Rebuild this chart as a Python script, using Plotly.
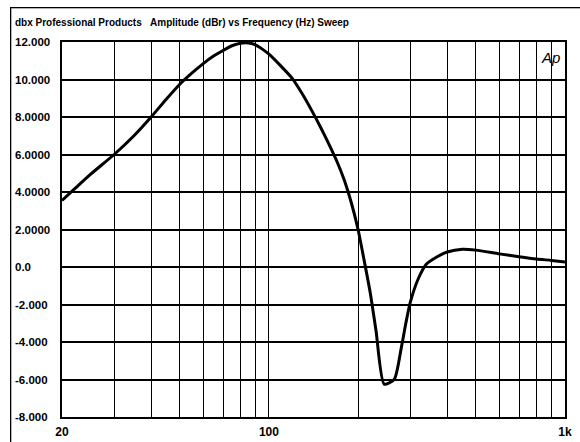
import numpy as np
import plotly.graph_objects as go

# Data
freq_hz = [20, 22, 25, 30, 35, 40, 45, 50, 55, 60, 65, 70, 75, 80, 85, 90, 95, 100, 110,
           120, 130, 140, 150, 160, 170, 180, 190, 200, 210, 220, 230, 245, 265, 280,
           290, 300, 320, 340, 370, 400, 450, 500, 600, 700, 800, 900, 1000]
amplitude_dbr = [3.55, 4.15, 4.95, 6.0, 7.0, 8.0, 8.95, 9.75, 10.35, 10.85, 11.25, 11.55,
                 11.8, 11.93, 11.95, 11.85, 11.62, 11.35, 10.7, 10.05, 9.2, 8.3, 7.4, 6.5,
                 5.6, 4.6, 3.4, 2.0, 0.3, -1.4, -3.4, -6.25, -6.0, -4.3, -3.0, -1.9, -0.6,
                 0.15, 0.55, 0.8, 0.95, 0.9, 0.7, 0.55, 0.43, 0.35, 0.27]

x_grid_vals = [20, 30, 40, 50, 60, 70, 80, 90, 100, 200, 300, 400, 500, 600, 700, 800, 900, 1000]
x_tick_labels = {20: "20", 100: "100", 1000: "1k"}
y_tick_vals = [12, 10, 8, 6, 4, 2, 0, -2, -4, -6, -8]
y_tick_labels = ["12.000", "10.000", "8.0000", "6.0000", "4.0000", "2.0000", "0.0",
                 "-2.000", "-4.000", "-6.000", "-8.000"]
title_text = "dbx Professional Products&nbsp;&nbsp;&nbsp;Amplitude (dBr) vs Frequency (Hz) Sweep"

FONT = "Liberation Sans, Arial, sans-serif"

fig = go.Figure()
fig.add_trace(go.Scatter(
    x=freq_hz, y=amplitude_dbr, mode="lines",
    line=dict(color="black", width=3, shape="spline", smoothing=0.6),
    hoverinfo="skip", showlegend=False,
))

fig.update_layout(
    width=580, height=442,
    margin=dict(l=62, r=15, t=42, b=25, autoexpand=False),
    paper_bgcolor="white", plot_bgcolor="white",
    showlegend=False,
    font=dict(family=FONT, color="black"),
)

fig.update_xaxes(
    type="log", range=[np.log10(20), np.log10(1000)],
    tickvals=x_grid_vals,
    ticktext=[x_tick_labels.get(v, "") for v in x_grid_vals],
    tickfont=dict(family=FONT, size=12, color="black", weight="bold"),
    ticks="", ticklabelstandoff=3, automargin=False,
    showgrid=True, gridcolor="black", gridwidth=1.3,
    showline=True, linecolor="black", linewidth=2, mirror=True,
    zeroline=False,
)
fig.update_yaxes(
    range=[-8, 12], tickvals=y_tick_vals, showticklabels=False, ticks="",
    automargin=False,
    showgrid=True, gridcolor="black", gridwidth=1.5,
    showline=True, linecolor="black", linewidth=2, mirror=True,
    zeroline=False,
)

annotations = []
# scanned page frame: a bordered box whose left/top edges fall inside the page
annotations.append(dict(
    x=-0.1034, xref="paper", y=1.093, yref="paper", text=" ", showarrow=False,
    xanchor="left", yanchor="top", width=620, height=480,
    bordercolor="black", borderwidth=1.3, borderpad=0,
))
for v, lab in zip(y_tick_vals, y_tick_labels):
    annotations.append(dict(
        x=-0.0975, xref="paper", y=v, yref="y", text=lab, showarrow=False,
        xanchor="left", yanchor="middle",
        font=dict(family=FONT, size=11.5, color="black", weight="bold"),
    ))
annotations.append(dict(
    x=-0.0975, xref="paper", y=1.053, yref="paper", text=title_text, showarrow=False,
    xanchor="left", yanchor="middle",
    font=dict(family=FONT, size=10, color="black", weight="bold"),
))
annotations.append(dict(
    x=0.995, xref="paper", y=0.96, yref="paper", text="<i>Ap</i>", showarrow=False,
    xanchor="right", yanchor="middle",
    font=dict(family=FONT, size=15, color="black"),
))
fig.update_layout(annotations=annotations)

fig.write_html("out.html", config={"displayModeBar": False},
               post_script="document.body.style.margin='0';document.body.style.padding='0';")
